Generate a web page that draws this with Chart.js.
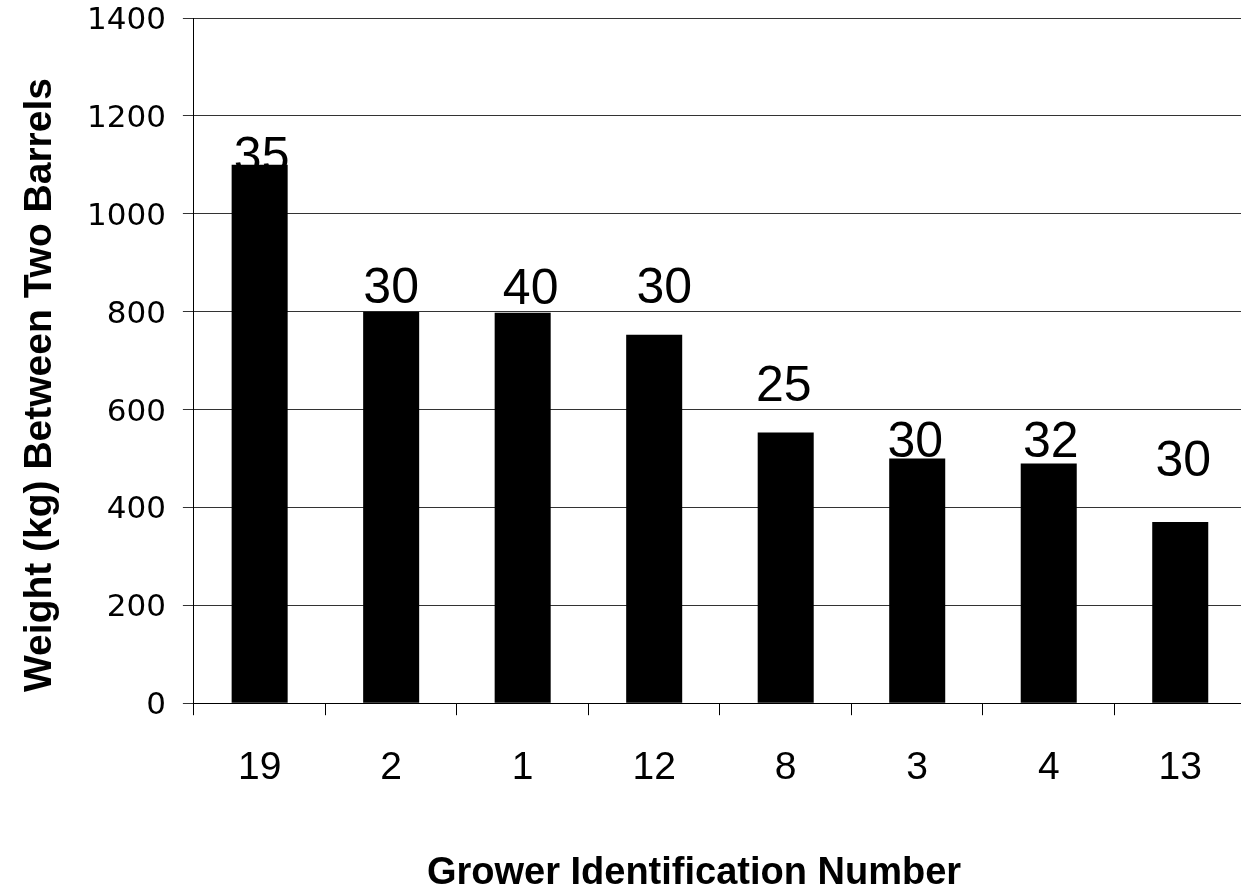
<!DOCTYPE html>
<html><head><meta charset="utf-8">
<script src="https://cdn.jsdelivr.net/npm/chart.js@4"></script>
<style>
html,body{margin:0;padding:0;background:#fff;overflow:hidden;width:1241px;height:888px}
#wrap{position:absolute;left:0;top:0;width:1250px;height:888px}
canvas{display:block}
</style>
</head><body><div id="wrap"><canvas id="c" width="1250" height="888"></canvas></div>
<script>
// ---- data ----
const categories = ['19', '2', '1', '12', '8', '3', '4', '13'];
const weights = [1100, 800, 798, 753, 553, 500, 490, 370];
const labelTexts = ['35', '30', '40', '30', '25', '30', '32', '30'];
const yMin = 0, yMax = 1400, yStep = 200;
const xTitle = 'Grower Identification Number';
const yTitle = 'Weight (kg) Between Two Barrels';

// ---- plugins ----
const barLabels = {
  id: 'barLabels',
  beforeDatasetsDraw(chart, args, opts) {
    const meta = chart.getDatasetMeta(0);
    const ctx = chart.ctx;
    ctx.save();
    ctx.font = opts.font;
    ctx.fillStyle = '#000';
    ctx.textAlign = 'center';
    ctx.textBaseline = 'alphabetic';
    meta.data.forEach((bar, i) => {
      ctx.fillText(labelTexts[i], bar.x + opts.dx[i], bar.y + opts.dy[i]);
    });
    ctx.restore();
  }
};
const axisTitles = {
  id: 'axisTitles',
  afterDraw(chart, args, opts) {
    const ctx = chart.ctx;
    ctx.save();
    ctx.fillStyle = '#000';
    ctx.font = opts.font;
    ctx.textAlign = 'center';
    ctx.textBaseline = 'alphabetic';
    ctx.fillText(xTitle, opts.xTitleX, opts.xTitleY);
    ctx.font = opts.yFont;
    ctx.translate(opts.yTitleX, opts.yTitleY);
    ctx.rotate(-Math.PI / 2);
    ctx.textBaseline = 'middle';
    ctx.fillText(yTitle, 0, 0);
    ctx.restore();
  }
};

new Chart(document.getElementById('c'), {
  type: 'bar',
  data: {
    labels: categories,
    datasets: [{
      data: weights,
      backgroundColor: '#000',
      borderWidth: 0,
      barPercentage: 0.426,
      categoryPercentage: 1.0
    }]
  },
  options: {
    responsive: false,
    animation: false,
    devicePixelRatio: 1,
    layout: { padding: { left: 70, top: 0, right: 4, bottom: 66 } },
    plugins: {
      legend: { display: false },
      tooltip: { enabled: false },
      barLabels: {
        font: '50px "Liberation Sans", Arial, sans-serif',
        dx: [2, 0, 8, 10, -2, -2, 2, 3],
        dy: [7, -8.5, -9, -32, -32, -1, -6, -46]
      },
      axisTitles: {
        font: 'bold 38px "Liberation Sans", Arial, sans-serif',
        yFont: 'bold 39px "Liberation Sans", Arial, sans-serif',
        xTitleX: 694, xTitleY: 884,
        yTitleX: 40, yTitleY: 385
      }
    },
    scales: {
      x: {
        offset: true,
        grid: { offset: true, drawOnChartArea: false, drawTicks: true, tickLength: 12, color: '#000', lineWidth: 1 },
        border: { display: true, color: '#000', width: 1 },
        ticks: {
          color: '#000', padding: 30, maxRotation: 0, autoSkip: false,
          font: { family: '"Liberation Sans", Arial, sans-serif', size: 39 }
        }
      },
      y: {
        min: yMin, max: yMax,
        afterFit: (scale) => { scale.paddingTop = 18; scale.paddingBottom = 18; },
        grid: { color: '#333', lineWidth: 1, drawTicks: true, tickLength: 11 },
        border: { display: true, color: '#000', width: 1 },
        ticks: {
          stepSize: yStep, color: '#000', padding: 17, labelOffset: 3,
          font: { family: '"DejaVu Sans", sans-serif', size: 31 },
          callback: (v) => String(v)
        }
      }
    }
  },
  plugins: [barLabels, axisTitles]
});
</script>
</body></html>
